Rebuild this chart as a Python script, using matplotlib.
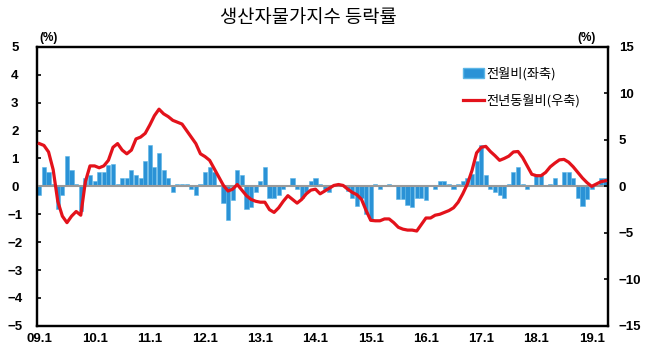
import numpy as np
import matplotlib
matplotlib.use("Agg")
import matplotlib.pyplot as plt
from matplotlib.patches import Patch
from matplotlib.lines import Line2D
from matplotlib.font_manager import FontProperties

plt.rcParams['font.family'] = ['Noto Sans CJK KR', 'DejaVu Sans']

# 월별 데이터 (2009.1 ~ 2019.4)
전월비 = [
    -0.3, 0.7, 0.5, 0.1, -0.8, -0.3, 1.1, 0.6, 0.1, -0.9, 0.3, 0.4,
    0.2, 0.5, 0.5, 0.75, 0.8, 0.1, 0.3, 0.3, 0.6, 0.4, 0.3, 0.9,
    1.5, 0.7, 1.2, 0.6, 0.3, -0.2, 0.1, 0.1, 0.1, -0.1, -0.3, 0.1,
    0.5, 0.7, 0.5, 0.05, -0.6, -1.2, -0.5, 0.6, 0.4, -0.8, -0.75, -0.2,
    0.2, 0.7, -0.4, -0.4, -0.3, -0.1, 0.0, 0.3, -0.1, -0.4, -0.2, 0.2,
    0.3, 0.1, -0.1, -0.2, 0.0, 0.0, 0.05, -0.15, -0.4, -0.7, -0.4, -1.0,
    -1.2, 0.1, -0.1, 0.0, 0.1, 0.0, -0.45, -0.45, -0.65, -0.75, -0.4, -0.4,
    -0.5, 0.0, -0.1, 0.2, 0.2, 0.1, -0.1, 0.1, 0.2, 0.3, 0.45, 0.9,
    1.5, 0.4, -0.1, -0.2, -0.3, -0.4, 0.1, 0.5, 0.7, 0.1, -0.1, 0.0,
    0.4, 0.4, 0.05, 0.1, 0.3, 0.0, 0.5, 0.5, 0.3, -0.4, -0.7, -0.45,
    -0.1, 0.0, 0.3, 0.3,
]
전년동월비 = [
    4.6, 4.4, 3.7, 1.8, -1.6, -3.2, -3.9, -3.2, -2.7, -3.1, 0.5, 2.2,
    2.2, 2.0, 2.2, 2.8, 4.2, 4.6, 3.9, 3.5, 3.9, 5.1, 5.3, 5.7,
    6.6, 7.6, 8.3, 7.8, 7.5, 7.1, 6.9, 6.7, 6.0, 5.3, 4.6, 3.5,
    3.2, 2.8, 1.9, 1.0, 0.1, -0.5, -0.3, 0.2, -0.4, -1.0, -1.4, -1.6,
    -1.7, -1.7, -2.5, -2.8, -2.3, -1.6, -1.0, -1.4, -1.8, -1.4, -0.8, -0.4,
    -0.3, -0.8, -0.5, -0.2, 0.1, 0.2, 0.1, -0.3, -0.65, -0.9, -1.4, -2.6,
    -3.65, -3.7, -3.7, -3.5, -3.5, -3.9, -4.4, -4.6, -4.7, -4.7, -4.8, -4.1,
    -3.4, -3.4, -3.1, -3.0, -2.8, -2.6, -2.3, -1.7, -0.8, 0.25, 1.7, 3.6,
    4.2, 4.3, 3.75, 3.3, 2.8, 3.0, 3.25, 3.7, 3.75, 3.1, 2.2, 1.3,
    1.15, 1.15, 1.5, 2.1, 2.5, 2.85, 2.9, 2.6, 2.1, 1.5, 0.9, 0.4,
    0.0, 0.25, 0.5, 0.6,
]
x_labels = ['09.1', '10.1', '11.1', '12.1', '13.1', '14.1',
            '15.1', '16.1', '17.1', '18.1', '19.1']

x = np.arange(len(전월비))
bar_color = '#2a92d6'
line_color = '#e3121b'
tick_font = FontProperties(family='Liberation Sans', weight='bold', size=9.5)

fig = plt.figure(figsize=(6.5, 3.55), dpi=100)
ax = fig.add_axes([0.057, 0.082, 0.878, 0.786])
ax2 = ax.twinx()

ax.bar(x, 전월비, width=0.9, color=bar_color, edgecolor='#5cb6e6', linewidth=0.4, zorder=2)
ax.axhline(0, color='#9a9a9a', linewidth=1.5, zorder=3)
ax2.plot(x, 전년동월비, color=line_color, linewidth=2.3, zorder=4)

ax.set_xlim(-0.5, len(x) - 0.5)
ax.set_ylim(-5, 5)
ax2.set_ylim(-15, 15)
ax.set_yticks(range(-5, 6))
ax2.set_yticks(range(-15, 16, 5))
ax.set_xticks(np.arange(0, len(x), 12))
ax.set_xticklabels(x_labels)

for a in (ax, ax2):
    for s in a.spines.values():
        s.set_linewidth(1.6)
        s.set_color('black')

ax.tick_params(axis='x', length=0, pad=5)
ax.tick_params(axis='y', direction='in', length=3, width=1.2, pad=16)
ax2.tick_params(axis='y', direction='in', length=3, width=1.2, pad=8)
for lab in ax.get_xticklabels() + ax.get_yticklabels() + ax2.get_yticklabels():
    lab.set_fontproperties(tick_font)
for lab in ax.get_yticklabels():
    lab.set_horizontalalignment('center')

fig.text(0.075, 0.885, '(%)', fontsize=8.5, fontweight='bold', family='Liberation Sans', ha='center')
fig.text(0.903, 0.885, '(%)', fontsize=8.5, fontweight='bold', family='Liberation Sans', ha='center')
fig.text(0.475, 0.95, '생산자물가지수 등락률', fontsize=13.5, ha='center', va='center')

handles = [Patch(facecolor=bar_color, edgecolor='#5cb6e6'),
           Line2D([0], [0], color=line_color, linewidth=2.3)]
ax.legend(handles, ['전월비(좌축)', '전년동월비(우축)'], loc='upper left',
          bbox_to_anchor=(0.725, 0.97), frameon=False, fontsize=9.5,
          handlelength=1.6, handleheight=0.7, handletextpad=0.2, labelspacing=1.0)

fig.savefig('out.png', dpi=100)
